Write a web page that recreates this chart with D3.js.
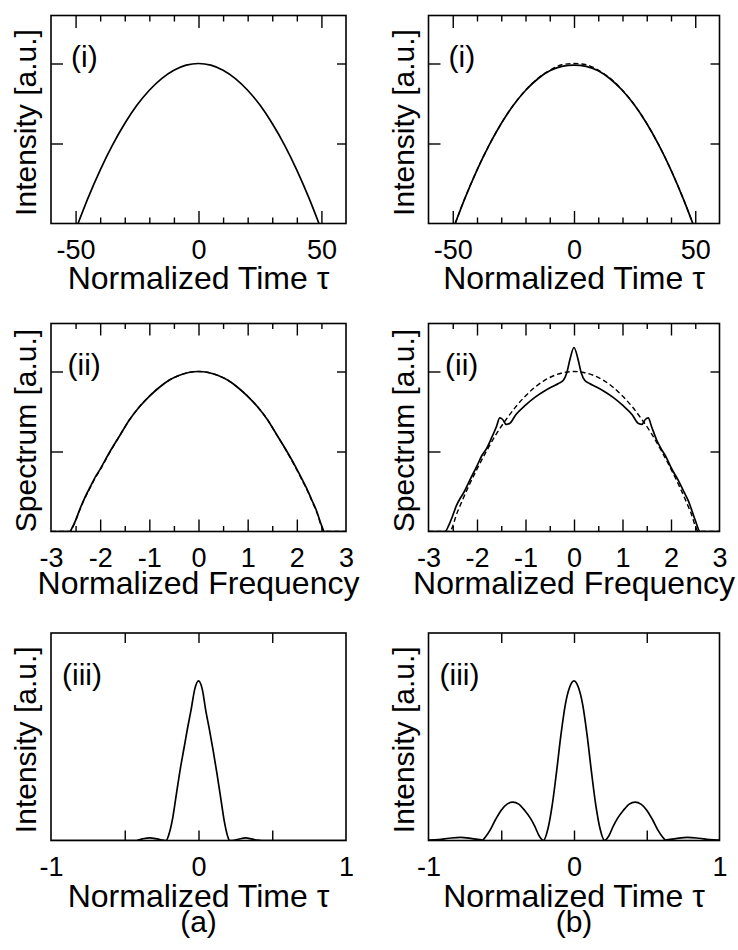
<!DOCTYPE html>
<html><head><meta charset="utf-8">
<script src="https://cdn.jsdelivr.net/npm/d3@7"></script>
<style>html,body{margin:0;padding:0;background:#fff;} svg{display:block;}</style>
</head><body>
<svg id="chart" width="738" height="950"></svg>
<script>
// ---------------- DATA ----------------
// Row (i): temporal intensity, normalized time tau
const tauI = [-49,-45,-40,-35,-30,-25,-20,-15,-10,-5,0,5,10,15,20,25,30,35,40,45,49];
const intensityA_i = [0,0.157,0.334,0.490,0.625,0.740,0.833,0.906,0.958,0.990,1.0,0.990,0.958,0.906,0.833,0.740,0.625,0.490,0.334,0.157,0];
const intensityB_i = [0,0.157,0.334,0.490,0.625,0.739,0.831,0.903,0.954,0.982,0.99,0.982,0.954,0.903,0.831,0.739,0.625,0.490,0.334,0.157,0];
const intensityB_iRef = [0,0.157,0.334,0.490,0.625,0.740,0.833,0.906,0.958,0.992,1.0,0.992,0.958,0.906,0.833,0.740,0.625,0.490,0.334,0.157,0];

// Row (ii): spectra, normalized frequency
const freqA = [-3,-2.62,-2.56,-2.5,-2.4,-2.3,-2.2,-2.1,-2.0,-1.8,-1.6,-1.4,-1.2,-1.0,-0.8,-0.6,-0.4,-0.2,0,0.2,0.4,0.6,0.8,1.0,1.2,1.4,1.6,1.8,2.0,2.1,2.2,2.3,2.4,2.5,2.56,3];
const spectrumA = [0,0,0.03,0.07,0.15,0.22,0.28,0.34,0.39,0.50,0.60,0.70,0.78,0.845,0.90,0.945,0.975,0.994,1.0,0.994,0.975,0.945,0.90,0.845,0.78,0.70,0.60,0.50,0.39,0.33,0.27,0.20,0.13,0.04,0,0];
const spectrumARef = [0,0,0.025,0.065,0.145,0.215,0.275,0.335,0.385,0.497,0.60,0.70,0.78,0.846,0.90,0.945,0.975,0.994,1.0,0.994,0.975,0.945,0.90,0.846,0.78,0.70,0.60,0.497,0.385,0.325,0.265,0.195,0.125,0.035,0,0];
const freqIdeal = [-3,-2.57,-2.4,-2.2,-2.0,-1.8,-1.6,-1.4,-1.2,-1.0,-0.8,-0.6,-0.4,-0.2,0,0.2,0.4,0.6,0.8,1.0,1.2,1.4,1.6,1.8,2.0,2.2,2.4,2.57,3];
const spectrumIdeal = [0,0,0.125,0.265,0.39,0.505,0.61,0.70,0.78,0.847,0.903,0.946,0.976,0.994,1.0,0.994,0.976,0.946,0.903,0.847,0.78,0.70,0.61,0.505,0.39,0.265,0.125,0,0];
const freqB = [-3,-2.66,-2.58,-2.5,-2.42,-2.36,-2.28,-2.15,-2.0,-1.9,-1.8,-1.7,-1.6,-1.53,-1.47,-1.4,-1.33,-1.2,-1.0,-0.8,-0.6,-0.45,-0.32,-0.22,-0.15,-0.08,0,0.08,0.15,0.22,0.32,0.45,0.6,0.8,1.0,1.2,1.33,1.4,1.47,1.53,1.6,1.7,1.8,1.9,2.0,2.15,2.28,2.36,2.42,2.5,2.6,3];
const spectrumB = [0,0,0.04,0.10,0.165,0.20,0.24,0.32,0.41,0.475,0.52,0.585,0.655,0.71,0.70,0.67,0.675,0.73,0.79,0.84,0.88,0.905,0.925,0.945,0.99,1.08,1.15,1.08,0.99,0.945,0.925,0.905,0.88,0.84,0.79,0.73,0.675,0.67,0.70,0.71,0.655,0.575,0.515,0.465,0.40,0.32,0.24,0.19,0.14,0.07,0,0];

// Row (iii): compressed pulses, normalized time tau
const tauA = [-1,-0.42,-0.38,-0.33,-0.28,-0.24,-0.22,-0.2,-0.175,-0.15,-0.125,-0.1,-0.075,-0.05,-0.025,0,0.025,0.05,0.075,0.1,0.125,0.15,0.175,0.2,0.21,0.23,0.27,0.32,0.36,0.40,0.43,1];
const intensityA_iii = [0,0,0.01,0.017,0.01,0.002,0,0.04,0.14,0.29,0.44,0.57,0.70,0.82,0.95,1.0,0.95,0.81,0.69,0.56,0.42,0.27,0.12,0.02,0,0,0.008,0.016,0.01,0.002,0,0];
const tauB = [-1,-0.93,-0.86,-0.78,-0.70,-0.63,-0.61,-0.58,-0.54,-0.50,-0.46,-0.42,-0.38,-0.34,-0.30,-0.27,-0.24,-0.21,-0.18,-0.15,-0.12,-0.09,-0.06,-0.03,0,0.03,0.06,0.09,0.12,0.15,0.18,0.21,0.24,0.27,0.30,0.34,0.38,0.42,0.46,0.50,0.54,0.58,0.61,0.63,0.70,0.78,0.86,0.93,1];
const intensityB_iii = [0.003,0.006,0.014,0.02,0.012,0.003,0.02,0.06,0.13,0.19,0.228,0.24,0.228,0.19,0.14,0.09,0.03,0,0.07,0.22,0.43,0.66,0.85,0.96,1.0,0.96,0.85,0.66,0.43,0.22,0.07,0,0.03,0.09,0.14,0.19,0.228,0.24,0.228,0.19,0.13,0.06,0.02,0.003,0.012,0.02,0.014,0.006,0.002];

// Axis ticks / labels
const timeLabelsWide = [-50,0,50];
const timeMinorWide = [-40,-30,-20,-10,10,20,30,40];
const freqLabels = [-3,-2,-1,0,1,2,3];
const freqMajor = [-2,-1,0,1,2];
const freqMinor = [-2.5,-1.5,-0.5,0.5,1.5,2.5];
const timeLabelsNarrow = [-1,0,1];
const timeTicksNarrow = [-0.5,0,0.5];
const yTickValues = [0.5,1];

// ---------------- LAYOUT ----------------
const FONT = "'Liberation Sans', Arial, Helvetica, sans-serif";
const svg = d3.select("#chart");
const cols = [{x:51,w:295,tag:"(a)"},{x:428.5,w:291,tag:"(b)"}];
const rows = [
  {y:15.5,h:208,title:"Normalized Time \u03c4",ylabel:"Intensity [a.u.]",tag:"(i)",tagDx:20,titleDy:65},
  {y:323.5,h:208,title:"Normalized Frequency",ylabel:"Spectrum [a.u.]",tag:"(ii)",tagDx:16.5,titleDy:62},
  {y:633,h:207.5,title:"Normalized Time \u03c4",ylabel:"Intensity [a.u.]",tag:"(iii)",tagDx:11,titleDy:66.5}
];

const panels = [
  {c:0,r:0,xd:[-60,60],labels:timeLabelsWide,major:timeLabelsWide,minor:timeMinorWide,majLen:12.5,minLen:6,yt:yTickValues,
   series:[{x:tauI,y:intensityA_i,dash:false}]},
  {c:1,r:0,xd:[-60,60],labels:timeLabelsWide,major:timeLabelsWide,minor:timeMinorWide,majLen:12.5,minLen:6,yt:yTickValues,
   series:[{x:tauI,y:intensityB_iRef,dash:true},{x:tauI,y:intensityB_i,dash:false}]},
  {c:0,r:1,xd:[-3,3],labels:freqLabels,major:freqMajor,minor:freqMinor,majLen:12,minLen:5.5,yt:yTickValues,
   series:[{x:freqA,y:spectrumARef,dash:true},{x:freqA,y:spectrumA,dash:false}]},
  {c:1,r:1,xd:[-3,3],labels:freqLabels,major:freqMajor,minor:freqMinor,majLen:12,minLen:5.5,yt:yTickValues,
   series:[{x:freqIdeal,y:spectrumIdeal,dash:true},{x:freqB,y:spectrumB,dash:false}]},
  {c:0,r:2,xd:[-1,1],labels:timeLabelsNarrow,major:timeTicksNarrow,minor:[],majLen:10,minLen:0,yt:[],
   series:[{x:tauA,y:intensityA_iii,dash:false}]},
  {c:1,r:2,xd:[-1,1],labels:timeLabelsNarrow,major:timeTicksNarrow,minor:[],majLen:10,minLen:0,yt:[],
   series:[{x:tauB,y:intensityB_iii,dash:false}]}
];

function styleAxis(g){
  g.select(".domain").remove();
  g.selectAll("line").attr("stroke","#000").attr("stroke-width",1.4);
  g.attr("font-family",FONT);
}

panels.forEach((p,i)=>{
  const col = cols[p.c], row = rows[p.r];
  const L = col.x, R = col.x+col.w, T = row.y, B = row.y+row.h;
  const x = d3.scaleLinear().domain(p.xd).range([L,R]);
  const y = d3.scaleLinear().domain([0,1.3]).range([B,T]);
  const g = svg.append("g");

  const clipId = "clip"+i;
  g.append("clipPath").attr("id",clipId).append("rect")
    .attr("x",L).attr("y",T).attr("width",R-L).attr("height",B-T);

  // ticks (inside, mirrored)
  const tickAxes = [
    [d3.axisBottom, B, p.major, p.majLen],[d3.axisTop, T, p.major, p.majLen],
    [d3.axisBottom, B, p.minor, p.minLen],[d3.axisTop, T, p.minor, p.minLen]
  ];
  tickAxes.forEach(([fn,pos,vals,len])=>{
    if(!vals.length) return;
    g.append("g").attr("transform",`translate(0,${pos})`)
      .call(fn(x).tickValues(vals).tickSize(-len).tickFormat(""))
      .call(styleAxis);
  });
  if(p.yt.length){
    g.append("g").attr("transform",`translate(${L},0)`)
      .call(d3.axisLeft(y).tickValues(p.yt).tickSize(-12).tickFormat(""))
      .call(styleAxis);
    g.append("g").attr("transform",`translate(${R},0)`)
      .call(d3.axisRight(y).tickValues(p.yt).tickSize(-9).tickFormat(""))
      .call(styleAxis);
  }
  // tick labels
  const lab = g.append("g").attr("transform",`translate(0,${B})`)
    .call(d3.axisBottom(x).tickValues(p.labels).tickSize(0).tickFormat(d=>String(d)))
    .call(styleAxis);
  lab.attr("font-size",27);
  lab.selectAll("text").attr("y",35).attr("dy",null).attr("fill","#000");

  // curves
  const line = d3.line().x((d)=>x(d[0])).y((d)=>y(d[1])).curve(d3.curveMonotoneX);
  p.series.forEach(s=>{
    const pts = s.x.map((v,k)=>[v,s.y[k]]);
    g.append("path").datum(pts).attr("d",line)
      .attr("clip-path",`url(#${clipId})`)
      .attr("fill","none").attr("stroke","#000")
      .attr("stroke-width",s.dash?1.4:1.7)
      .attr("stroke-dasharray",s.dash?"5,3":null);
  });

  // frame
  g.append("rect").attr("x",L).attr("y",T).attr("width",R-L).attr("height",B-T)
    .attr("fill","none").attr("stroke","#000").attr("stroke-width",1.6);

  // panel tag
  g.append("text").attr("x",L+row.tagDx).attr("y",T+51.5)
    .attr("font-family",FONT).attr("font-size",30).text(row.tag);

  // x title
  g.append("text").attr("x",(L+R)/2).attr("y",B+row.titleDy)
    .attr("text-anchor","middle").attr("font-family",FONT).attr("font-size",32).text(row.title);

  // y title
  g.append("text").attr("transform",`translate(${L-15},${(T+B)/2+3}) rotate(-90)`)
    .attr("text-anchor","middle").attr("font-family",FONT).attr("font-size",30).text(row.ylabel);

  // column tag
  if(p.r===2){
    g.append("text").attr("x",(L+R)/2).attr("y",932)
      .attr("text-anchor","middle").attr("font-family",FONT).attr("font-size",30).text(col.tag);
  }
});
</script>
</body></html>
